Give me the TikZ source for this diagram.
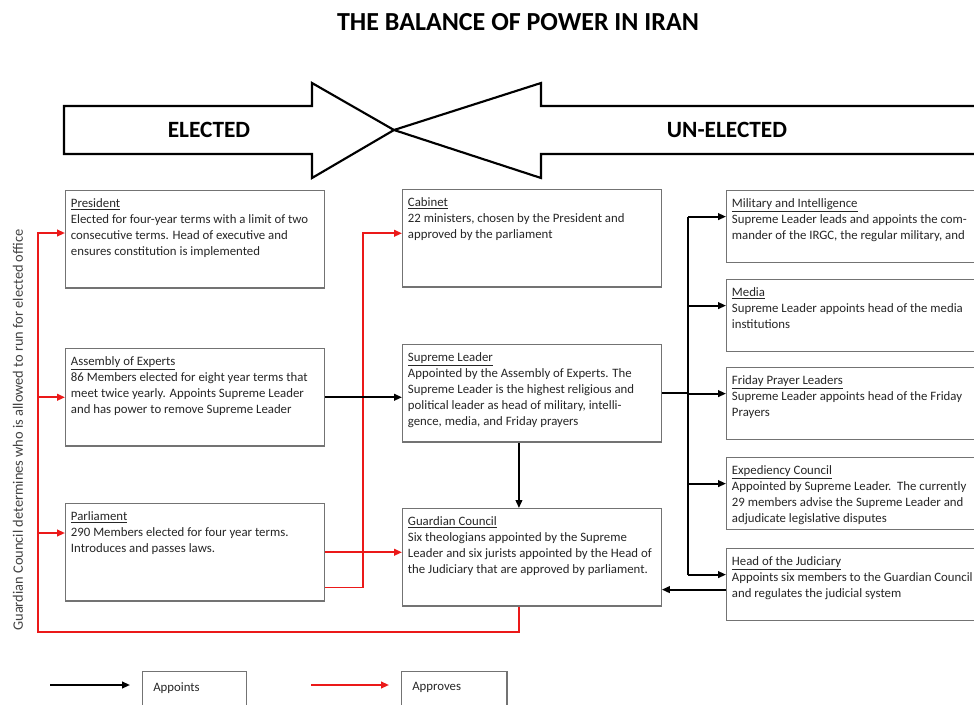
\documentclass[tikz,border=0pt]{standalone}
\usepackage{fontspec}
\setmainfont{Carlito}
\usetikzlibrary{calc,arrows.meta}
\definecolor{apprred}{RGB}{235,25,25}
\newcommand\boxtext[4]{\parbox[t][#2][t]{#1}{\raggedright\underline{#3}\\#4}}

\begin{document}
\begin{tikzpicture}[x=0.75pt,y=-0.75pt,
    infobox/.style={draw=black!55, line width=0.9pt, anchor=north west, inner xsep=4pt, inner ysep=6pt,
      fill=white, text=black!85, font=\fontsize{9.6}{12}\selectfont},
    legendbox/.style={draw=black!55, line width=0.9pt, anchor=north west, inner xsep=8pt, inner ysep=8pt,
      text=black!85, font=\fontsize{9.6}{12}\selectfont},
    bigarrow/.style={draw=black, line width=1.6pt, line join=miter},
    bigtext/.style={font=\bfseries\fontsize{17.5}{20}\selectfont},
    appoint/.style={draw=black, line width=1.4pt, -{Triangle[length=6pt,width=5pt]}},
    approve/.style={appoint, draw=apprred},
    rail/.style={line width=1.4pt}
  ]
  \useasboundingbox (0,0) rectangle (974,704);
  \clip (0,0) rectangle (974,704);

  %%%%% TITLE AND HEADER ARROWS %%%%%
  \node[font=\bfseries\fontsize{19.5}{22}\selectfont] (title) at (518,22) {THE BALANCE OF POWER IN IRAN};

  \draw[bigarrow] (64,106) -- (312,106) -- (312,83) -- (394,130) -- (312,178) -- (312,154) -- (64,154) -- cycle;
  \draw[bigarrow] (990,106) -- (541,106) -- (541,83) -- (394,130) -- (541,178) -- (541,154) -- (990,154);
  \node[bigtext] (elected) at (209,130) {ELECTED};
  \node[bigtext] (unelected) at (727,130) {UN-ELECTED};

  %%%%% ELECTED COLUMN %%%%%
  \node[infobox] (pres) at (65,190) {\boxtext{186pt}{61pt}{President}{Elected for four-year terms with a limit of two\\consecutive terms. Head of executive and\\ensures constitution is implemented}};
  \node[infobox] (asm) at (65,348) {\boxtext{186pt}{61pt}{Assembly of Experts}{86 Members elected for eight year terms that\\meet twice yearly. Appoints Supreme Leader\\and has power to remove Supreme Leader}};
  \node[infobox] (parl) at (65,503) {\boxtext{186pt}{61pt}{Parliament}{290 Members elected for four year terms.\\Introduces and passes laws.}};

  %%%%% MIDDLE COLUMN %%%%%
  \node[infobox] (cab) at (402,189) {\boxtext{186pt}{61pt}{Cabinet}{22 ministers, chosen by the President and\\approved by the parliament}};
  \node[infobox] (sl) at (402,344) {\boxtext{186pt}{61pt}{Supreme Leader}{Appointed by the Assembly of Experts. The\\Supreme Leader is the highest religious and\\political leader as head of military, intelli-\\gence, media, and Friday prayers}};
  \node[infobox] (gc) at (402,508) {\boxtext{186pt}{61pt}{Guardian Council}{Six theologians appointed by the Supreme\\Leader and six jurists appointed by the Head of\\the Judiciary that are approved by parliament.}};

  %%%%% UN-ELECTED COLUMN %%%%%
  \node[infobox] (mil) at (726,190) {\boxtext{186pt}{42pt}{Military and Intelligence}{Supreme Leader leads and appoints the com-\\mander of the IRGC, the regular military, and}};
  \node[infobox] (media) at (726,279) {\boxtext{186pt}{42pt}{Media}{Supreme Leader appoints head of the media\\institutions}};
  \node[infobox] (fri) at (726,367) {\boxtext{186pt}{42pt}{Friday Prayer Leaders}{Supreme Leader appoints head of the Friday\\Prayers}};
  \node[infobox] (exp) at (726,457) {\boxtext{186pt}{42pt}{Expediency Council}{Appointed by Supreme Leader.\ \ The currently\\29 members advise the Supreme Leader and\\adjudicate legislative disputes}};
  \node[infobox] (jud) at (726,548) {\boxtext{186pt}{42pt}{Head of the Judiciary}{Appoints six members to the Guardian Council\\and regulates the judicial system}};

  \node[rotate=90, font=\fontsize{10.8}{12}\selectfont, text=black!75] (gclabel) at (18,430) {Guardian Council determines who is allowed to run for elected office};

  %%%%% APPROVES (RED) %%%%%
  \coordinate (railbot) at (38,632);
  \coordinate (railtop) at (38,233);
  \coordinate (parlin) at (38,533);
  \coordinate (gcin) at ($(gc.south)+(-13,0)$);
  \draw[approve] (gcin) |- (railbot) -- (railtop) -- (railtop -| pres.west);
  \draw[approve] (railtop |- asm.west) -- (asm.west);
  \draw[approve] (parlin) -- (parlin -| parl.west);
  \draw[approve] (parl.east) -- (parl.east -| gc.west);
  \coordinate (parlout) at ($(parl.south east)+(0,-14)$);
  \draw[approve] (parlout) -- ++(38,0) |- ($(cab.west)+(0,-5)$);

  %%%%% APPOINTS (BLACK) %%%%%
  \draw[appoint] (asm.east) -- (asm.east -| sl.west);
  \draw[appoint] ($(sl.south)+(-13,0)$) -- ($(gc.north)+(-13,0)$);
  \coordinate (bustop) at ($(mil.west)+(-38,-10)$);
  \coordinate (busbot) at ($(jud.west)+(-38,-10)$);
  \draw[rail] (bustop) -- (busbot);
  \draw[rail] (sl.east) -- (sl.east -| bustop);
  \foreach \b in {mil,media,fri,exp,jud}
    \draw[appoint] ($(\b.west)+(-38,-10)$) -- ($(\b.west)+(0,-10)$);
  \coordinate (judout) at ($(jud.west)+(0,5)$);
  \draw[appoint] (judout) -- (judout -| gc.east);

  %%%%% LEGEND %%%%%
  \node[legendbox] (lgappoint) at (142,671) {\parbox[t][30pt][t]{62pt}{Appoints}};
  \node[legendbox] (lgapprove) at (401,671) {\parbox[t][30pt][t]{63pt}{Approves}};
  \coordinate (lgaone) at (50,685);
  \coordinate (lgatwo) at (311,685);
  \draw[appoint] (lgaone) -- ++(80,0);
  \draw[approve] (lgatwo) -- ++(78,0);
\end{tikzpicture}
\end{document}
